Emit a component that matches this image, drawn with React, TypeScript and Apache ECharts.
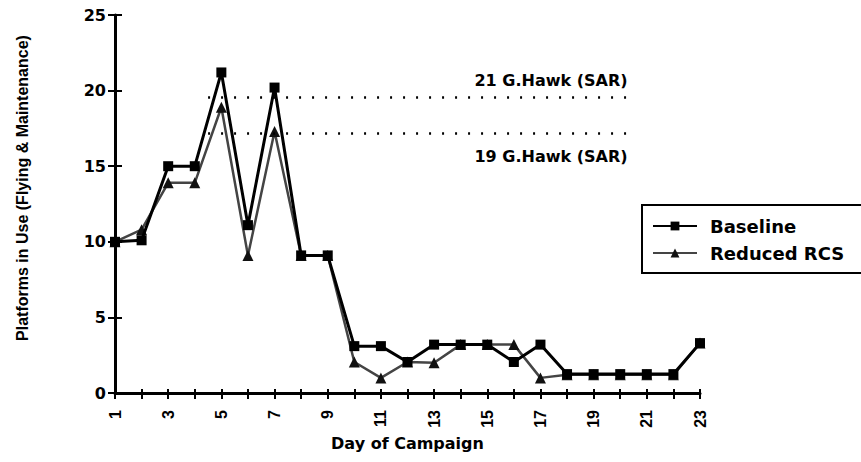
import React, { useEffect, useRef } from "react";
import * as echarts from "echarts";

const days = [1, 2, 3, 4, 5, 6, 7, 8, 9, 10, 11, 12, 13, 14, 15, 16, 17, 18, 19, 20, 21, 22, 23];
const baseline = [10, 10.1, 15, 15, 21.2, 11.1, 20.2, 9.1, 9.1, 3.1, 3.1, 2.05, 3.2, 3.2, 3.2, 2.05, 3.2, 1.25, 1.25, 1.25, 1.25, 1.25, 3.3];
const reducedRCS = [10, 10.8, 13.9, 13.9, 18.9, 9.1, 17.3, 9.1, 9.1, 2.05, 1.0, 2.05, 2.0, 3.2, 3.2, 3.2, 1.0, 1.2, 1.2, 1.2, 1.2, 1.2, 3.3];
const refLevels = [19.55, 17.2];
const refLabels = ["21 G.Hawk (SAR)", "19 G.Hawk (SAR)"];
const refSpan = [4.5, 20.5];
const seriesNames = ["Baseline", "Reduced RCS"];
const xTitle = "Day of Campaign";
const yTitle = "Platforms in Use (Flying & Maintenance)";

const HFONT = "DejaVu Sans";
const VFONT = "Liberation Sans";

export default function App() {
  const ref = useRef<HTMLDivElement>(null);
  useEffect(() => {
    if (!ref.current) return;
    const chart = echarts.init(ref.current, undefined, { renderer: "svg" });
    const grid = { left: 115, right: 161, top: 15, bottom: 69, containLabel: false };
    const xBase = {
      type: "value",
      min: 1,
      max: 23,
      interval: 1,
      splitLine: { show: false },
    };
    const yBase = {
      type: "value",
      min: 0,
      max: 25,
      interval: 5,
      splitLine: { show: false },
    };
    const option: any = {
      animation: false,
      backgroundColor: "#ffffff",
      grid,
      xAxis: [
        {
          ...xBase,
          position: "bottom",
          axisLine: { show: true, lineStyle: { color: "#000", width: 3 } },
          axisTick: { show: true, length: 6, lineStyle: { color: "#000", width: 2 } },
          axisLabel: {
            rotate: 90,
            margin: 17,
            color: "#000",
            fontFamily: VFONT,
            fontWeight: "bold",
            fontSize: 16,
            formatter: (v: number) => (v % 2 === 1 ? String(v) : ""),
          },
          name: xTitle,
          nameLocation: "middle",
          nameGap: 40,
          nameTextStyle: { color: "#000", fontFamily: HFONT, fontWeight: "bold", fontSize: 16 },
        },
        {
          ...xBase,
          position: "bottom",
          axisLine: { show: false },
          axisTick: { show: true, inside: true, length: 4, lineStyle: { color: "#000", width: 2 } },
          axisLabel: { show: false },
        },
      ],
      yAxis: [
        {
          ...yBase,
          axisLine: { show: true, lineStyle: { color: "#000", width: 3 } },
          axisTick: { show: true, length: 7, lineStyle: { color: "#000", width: 2 } },
          axisLabel: {
            margin: 9,
            color: "#000",
            fontFamily: HFONT,
            fontWeight: "bold",
            fontSize: 16,
          },
        },
        {
          ...yBase,
          position: "left",
          axisLine: { show: false },
          axisTick: { show: true, inside: true, length: 7, lineStyle: { color: "#000", width: 2 } },
          axisLabel: { show: false },
        },
      ],
      legend: {
        orient: "vertical",
        left: 642,
        top: 205,
        padding: [12, 30, 11, 10],
        itemGap: 9,
        itemWidth: 44,
        itemHeight: 11,
        borderColor: "#000",
        borderWidth: 2,
        backgroundColor: "#fff",
        textStyle: { color: "#000", fontFamily: HFONT, fontWeight: "bold", fontSize: 18, lineHeight: 18, padding: [0, 0, 0, 8] },
        data: seriesNames,
      },
      series: [
        {
          name: seriesNames[1],
          type: "line",
          data: days.map((d, i) => [d, reducedRCS[i]]),
          symbol: "triangle",
          symbolSize: 11,
          itemStyle: { color: "#111" },
          lineStyle: { color: "#444", width: 2.5 },
          z: 3,
          markLine: {
            silent: true,
            symbol: "none",
            label: { show: false },
            lineStyle: { color: "#000", width: 2.5, type: [2, 11] },
            data: refLevels.map((lv) => [
              { coord: [refSpan[0], lv] },
              { coord: [refSpan[1], lv] },
            ]),
          },
        },
        {
          name: seriesNames[0],
          type: "line",
          data: days.map((d, i) => [d, baseline[i]]),
          symbol: "rect",
          symbolSize: 10,
          itemStyle: { color: "#000" },
          lineStyle: { color: "#000", width: 3 },
          z: 4,
        },
      ],
    };
    chart.setOption(option);
    const pHi = chart.convertToPixel({ gridIndex: 0 }, [refSpan[1], refLevels[0]]) as number[];
    const pLo = chart.convertToPixel({ gridIndex: 0 }, [refSpan[1], refLevels[1]]) as number[];
    chart.setOption({
      graphic: [
        {
          type: "text",
          x: pHi[0] - 6,
          y: pHi[1] - 17,
          style: {
            text: refLabels[0],
            align: "right",
            verticalAlign: "middle",
            fill: "#000",
            font: `bold 16px "${HFONT}"`,
          },
        },
        {
          type: "text",
          x: pLo[0] - 6,
          y: pLo[1] + 24,
          style: {
            text: refLabels[1],
            align: "right",
            verticalAlign: "middle",
            fill: "#000",
            font: `bold 16px "${HFONT}"`,
          },
        },
        {
          type: "text",
          x: 22,
          y: 188,
          rotation: Math.PI / 2,
          style: {
            text: yTitle,
            align: "center",
            verticalAlign: "middle",
            fill: "#000",
            font: `bold 16px "${VFONT}"`,
          },
        },
      ],
    });
    return () => chart.dispose();
  }, []);
  return (
    <div
      ref={ref}
      style={{ position: "fixed", left: 0, top: 0, width: 861, height: 462, background: "#fff" }}
    />
  );
}
